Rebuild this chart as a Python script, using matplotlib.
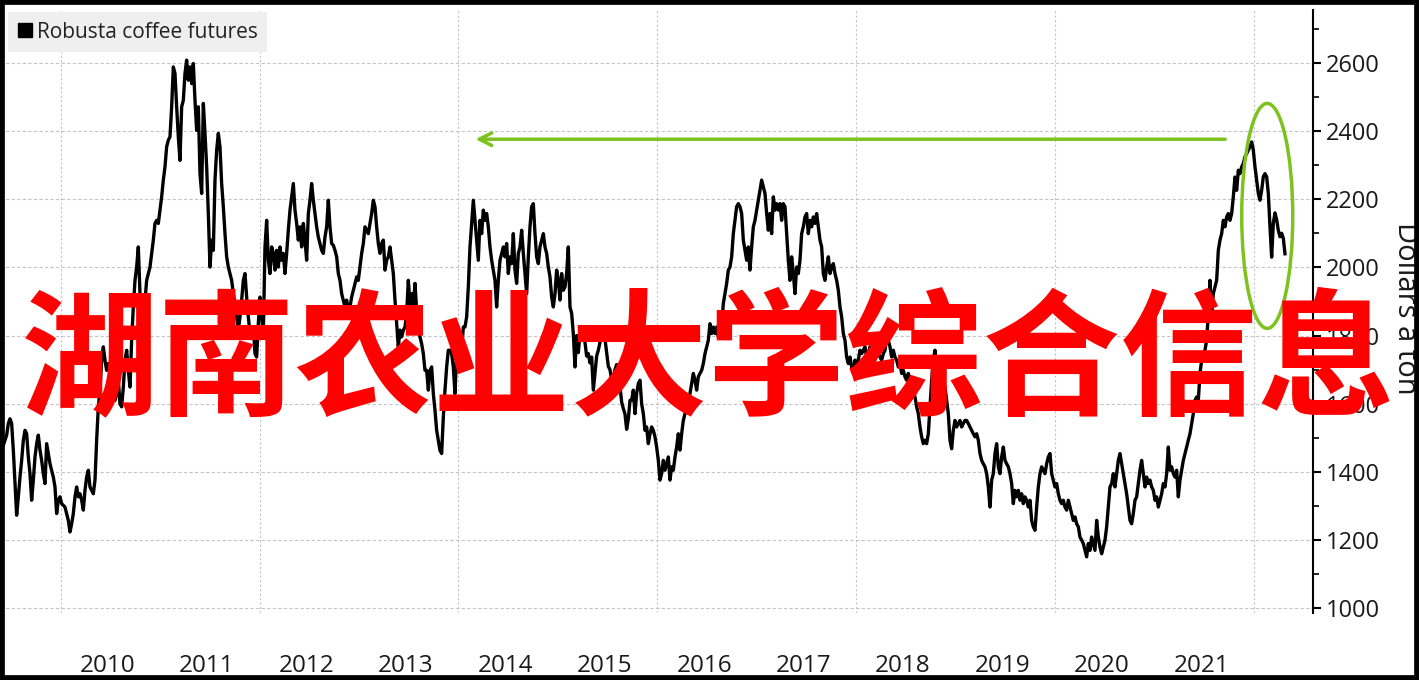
import numpy as np
import matplotlib
matplotlib.use("Agg")
import matplotlib.pyplot as plt
from matplotlib.patches import Ellipse, Rectangle
from matplotlib.lines import Line2D
from matplotlib.ticker import MultipleLocator

plt.rcParams['font.family'] = ['Open Sans', 'DejaVu Sans']

# Robusta coffee futures, dollars a ton, one reading about every 6 days
start_year = 2009.423
step_years = 0.01676
prices = [
    1478, 1493, 1508, 1542, 1556, 1542, 1464, 1366, 1273, 1327,
    1385, 1434, 1493, 1522, 1512, 1444, 1395, 1317, 1376, 1444,
    1483, 1508, 1464, 1434, 1395, 1366, 1483, 1454, 1424, 1405,
    1385, 1356, 1278, 1317, 1327, 1307, 1302, 1297, 1278, 1258,
    1224, 1248, 1278, 1327, 1356, 1327, 1336, 1317, 1288, 1346,
    1385, 1405, 1356, 1346, 1336, 1376, 1493, 1591, 1640, 1728,
    1767, 1728, 1698, 1718, 1689, 1659, 1630, 1610, 1630, 1669,
    1600, 1591, 1649, 1728, 1757, 1698, 1649, 1786, 1884, 1962,
    2001, 2060, 1923, 1855, 1845, 1904, 1962, 1982, 2001, 2041,
    2080, 2129, 2138, 2129, 2168, 2207, 2256, 2295, 2354, 2373,
    2383, 2471, 2588, 2569, 2471, 2383, 2314, 2471, 2490,
    # 2011
    2569, 2608, 2549, 2588, 2539, 2598, 2490, 2402, 2471, 2275,
    2217, 2481, 2393, 2295, 2158, 2001, 2080, 2050, 2256, 2344,
    2393, 2353, 2246, 2178, 2099, 2031, 2001, 1982, 1962, 1923,
    1894, 1855, 1816, 1855, 1904, 1962, 1982, 1913, 1855, 1806,
    1806, 1825, 1747, 1737, 1835, 1913, 1855, 1806, 2060, 2138,
    2021, 1982, 2060, 2041, 1992, 2050, 2001, 2060, 2021, 2041,
    1982, 2041, 2109, 2168, 2207, 2246, 2168, 2129, 2080, 2119,
    2060, 2129, 2080, 2021, 2158, 2197, 2246, 2197, 2158, 2119,
    2089, 2070, 2050, 2041, 2089, 2119, 2197, 2119, 2070, 2065,
    2050, 2031, 1982, 1962, 1923, 1904, 1884, 1904, 1874, 1884,
    1913, 1933, 1953, 1972, 1962, 2001, 2041, 2070, 2119, 2109,
    2099,
    # 2013
    2129, 2158, 2197, 2178, 2119, 2070, 2041, 2070, 2080, 1992,
    2021, 2031, 2060, 2021, 1982, 1904, 1835, 1767, 1816, 1796,
    1816, 1825, 1865, 1962, 1894, 1923, 1884, 1953, 1874, 1825,
    1796, 1776, 1747, 1698, 1698, 1640, 1698, 1708, 1630, 1581,
    1522, 1493, 1463, 1454, 1561, 1640, 1708, 1757, 1757, 1747,
    1708, 1630, 1747, 1728, 1698, 1757, 1825, 1825, 1855, 1943,
    2060, 2129, 2197, 2138, 2080, 2021, 2138, 2099, 2168, 2138,
    2158, 2119, 2060, 2021, 1992, 1962, 1884, 1962, 2021, 2041,
    2060, 2031, 2070, 1982, 2031, 2011, 2099, 1992, 1953, 2041,
    2060, 2109, 2041, 1982, 1923, 2031, 2119, 2178, 2187, 2099,
    2031, 2011, 2060, 2080, 2099, 2060, 2041, 2001, 1972, 1913,
    1884,
    # 2015
    1923, 1992, 1962, 1904, 1982, 1933, 1943, 1982, 2060, 1884,
    1865, 1806, 1708, 1800, 1750, 1806, 1796, 1816, 1780, 1740,
    1747, 1720, 1737, 1640, 1690, 1740, 1757, 1780, 1800, 1806,
    1790, 1750, 1710, 1700, 1670, 1675, 1700, 1715, 1700, 1650,
    1605, 1586, 1570, 1525, 1555, 1610, 1610, 1640, 1571, 1630,
    1659, 1669, 1600, 1571, 1522, 1532, 1483, 1512, 1532, 1522,
    1503, 1473, 1434, 1376, 1395, 1434, 1405, 1424, 1444, 1376,
    1415, 1405, 1444, 1473, 1512, 1464, 1512, 1551, 1571, 1581,
    1600, 1630, 1659, 1689, 1669, 1640, 1679, 1689, 1698, 1718,
    1747, 1767, 1786, 1835, 1806, 1825, 1806, 1825, 1796, 1816,
    1825, 1894, 1923, 1953, 1992, 2001, 2031, 2099, 2138, 2178,
    2187,
    # 2017
    2178, 2158, 2080, 2050, 2021, 2060, 1992, 2060, 2119, 2138,
    2168, 2197, 2226, 2256, 2236, 2217, 2158, 2109, 2158, 2099,
    2207, 2168, 2187, 2168, 2187, 2138, 2187, 2178, 2099, 2021,
    1962, 2031, 1982, 1923, 2001, 1982, 2021, 2099, 2119, 2148,
    2158, 2099, 2138, 2119, 2148, 2129, 2158, 2119, 2080, 2060,
    1982, 1962, 2001, 2031, 1982, 2001, 2011, 1982, 1962, 1933,
    1884, 1855, 1806, 1786, 1737, 1718, 1737, 1708, 1689, 1728,
    1708, 1728, 1757, 1747, 1757, 1767, 1737, 1747, 1767, 1757,
    1737, 1728, 1757, 1747, 1737, 1728, 1747, 1757, 1796, 1786,
    1767, 1737, 1757, 1737, 1728, 1708, 1718, 1689, 1698, 1679,
    1669, 1689, 1669, 1649, 1640, 1620, 1591, 1571, 1532, 1503,
    1483,
    # 2019
    1493, 1483, 1512, 1591, 1669, 1728, 1757, 1708, 1669, 1630,
    1610, 1630, 1649, 1610, 1571, 1493, 1468, 1522, 1551, 1532,
    1542, 1551, 1532, 1542, 1551, 1551, 1542, 1532, 1522, 1512,
    1503, 1512, 1493, 1454, 1434, 1424, 1415, 1395, 1356, 1297,
    1376, 1395, 1454, 1483, 1415, 1395, 1444, 1473, 1434, 1424,
    1415, 1395, 1366, 1307, 1346, 1327, 1346, 1317, 1336, 1307,
    1327, 1317, 1297, 1317, 1258, 1239, 1229, 1297, 1356, 1395,
    1415, 1405, 1395, 1424, 1444, 1454, 1395, 1376, 1356, 1366,
    1336, 1317, 1307, 1317, 1297, 1288, 1317, 1297, 1278, 1258,
    1268, 1248, 1239, 1209, 1200, 1190, 1170, 1151, 1190, 1170,
    1209, 1190, 1170, 1258, 1209, 1180, 1160, 1180, 1200, 1239,
    1297,
    # 2021
    1356, 1366, 1395, 1356, 1395, 1434, 1454, 1424, 1395, 1366,
    1336, 1297, 1258, 1248, 1278, 1317, 1327, 1366, 1405, 1434,
    1395, 1356, 1385, 1366, 1376, 1356, 1346, 1317, 1327, 1297,
    1317, 1336, 1366, 1356, 1395, 1473, 1405, 1415, 1395, 1385,
    1405, 1327, 1376, 1405, 1434, 1454, 1473, 1493, 1512, 1542,
    1571, 1610, 1620, 1610, 1689, 1728, 1747, 1757, 1786, 1865,
    1962, 1860, 1923, 1943, 1962, 2050, 2080, 2099, 2138, 2119,
    2148, 2158, 2138, 2158, 2207, 2265, 2226, 2285, 2275, 2295,
    2305, 2324, 2334, 2344, 2354, 2368, 2344, 2295, 2256, 2217,
    2197, 2226, 2266, 2275, 2266, 2217, 2119, 2030, 2130, 2160,
    2140, 2109, 2090, 2100, 2085, 2040,
]

year_labels = [str(y) for y in range(2010, 2022)]
y_ticks = [1000, 1200, 1400, 1600, 1800, 2000, 2200, 2400, 2600]
grid_years = [2010, 2012, 2014, 2016, 2018, 2020, 2022]

# annotations (data coordinates)
arrow_level = 2376
arrow_start = 2021.71
arrow_end = 2014.17
ellipse_center = (2022.133, 2151)
ellipse_w = 0.513
ellipse_h = 660

green = '#7dc21e'

years = start_year + step_years * np.arange(len(prices))

fig = plt.figure(figsize=(14.19, 6.80), dpi=100)
ax = fig.add_axes([0.0, 0.0979, 0.9253, 0.8874])

ax.plot(years, prices, color='black', lw=2.4, zorder=3)

ax.set_xlim(2009.3896, 2022.5932)
ax.set_ylim(985, 2755)

# right hand axis
for side in ['left', 'top', 'bottom']:
    ax.spines[side].set_visible(False)
ax.spines['right'].set_linewidth(1.5)
ax.yaxis.tick_right()
ax.set_yticks(y_ticks)
ax.yaxis.set_minor_locator(MultipleLocator(100))
ax.tick_params(axis='y', which='major', direction='out', length=6, width=1.5,
               labelsize=17, labelcolor='#1a1a1a', pad=3)
ax.tick_params(axis='y', which='minor', direction='out', length=4, width=1.2)

ax.set_xticks([y + 0.47 for y in range(2010, 2022)])
ax.set_xticklabels(year_labels)
ax.set_xticks(grid_years, minor=True)
ax.tick_params(axis='x', which='both', length=0, labelsize=17.5,
               labelcolor='#1a1a1a', pad=29)

ax.grid(False)
ax.grid(True, axis='y', which='major', color='#c4c4c4', linestyle=(0, (3, 2)), lw=0.8)
ax.grid(True, axis='x', which='minor', color='#c4c4c4', linestyle=(0, (2, 2)), lw=0.8)

fig.text(1405 / 1419, 1 - 308 / 680, 'Dollars a ton', rotation=270,
         ha='center', va='center', fontsize=21, color='#1a1a1a')

# legend
handle = Line2D([0], [0], marker='s', color='black', linestyle='none', markersize=10)
leg = ax.legend([handle], ['Robusta coffee futures'], loc='upper left',
                bbox_to_anchor=(0.006, 0.996), borderaxespad=0, frameon=True,
                facecolor='#efefef', edgecolor='none', fancybox=False, framealpha=1,
                fontsize=15, handletextpad=0.25, handlelength=0.7, borderpad=0.45)
for t in leg.get_texts():
    t.set_color('#222222')

# green arrow and ellipse
ax.annotate('', xy=(arrow_end, arrow_level), xytext=(arrow_start, arrow_level),
            arrowprops=dict(arrowstyle='->,head_length=0.9,head_width=0.45',
                            color=green, lw=2.5, shrinkA=0, shrinkB=0), zorder=4)
ax.add_patch(Ellipse(ellipse_center, ellipse_w, ellipse_h, fill=False,
                     edgecolor=green, lw=2.5, zorder=4))

# watermark text
fig.text(0.499, 1 - 364 / 680, '湖南农业大学综合信息', ha='center', va='center',
         fontsize=99, fontweight='bold', color='#ff0000',
         family=['Noto Sans CJK SC', 'DejaVu Sans'], zorder=10)

# black frame round the picture
fig.add_artist(Rectangle((0, 0), 1, 1, transform=fig.transFigure, fill=False,
                         edgecolor='black', lw=7, zorder=20))

fig.savefig('out.png', dpi=100)
